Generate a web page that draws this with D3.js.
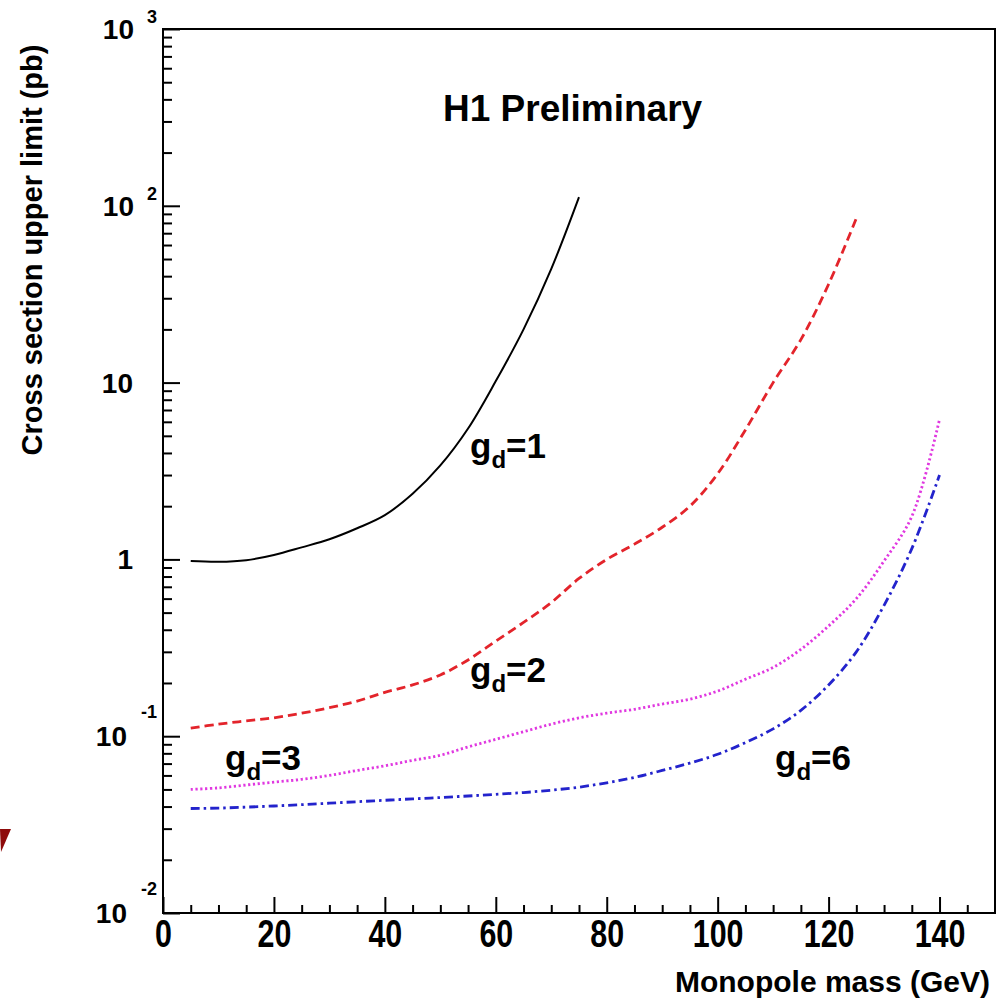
<!DOCTYPE html>
<html>
<head>
<meta charset="utf-8">
<script src="https://cdn.jsdelivr.net/npm/d3@7"></script>
<style>
  body { margin: 0; background: #fff; }
  svg { display: block; font-family: "Liberation Sans", Arial, sans-serif; font-weight: bold; }
</style>
</head>
<body>
<svg id="chart"></svg>
<script>
// monopole mass points (GeV)
const masses = [5, 10, 15, 20, 25, 30, 35, 40, 45, 50, 55, 60, 65, 70, 75,
  80, 85, 90, 95, 100, 105, 110, 115, 120, 125, 130, 135, 140];

// cross section upper limits (pb)
const limitG1 = [0.98, 0.97, 0.99, 1.06, 1.17, 1.30, 1.50, 1.78, 2.35, 3.4, 5.5, 10.2, 20, 44, 112];
const limitG2 = [0.111, 0.117, 0.122, 0.127, 0.135, 0.145, 0.158, 0.177, 0.195, 0.222, 0.27, 0.345,
  0.44, 0.57, 0.78, 1.0, 1.22, 1.52, 2.0, 3.05, 5.4, 10, 17.5, 36, 85];
const limitG3 = [0.050, 0.051, 0.053, 0.055, 0.057, 0.060, 0.064, 0.068, 0.073, 0.078, 0.087, 0.096,
  0.106, 0.117, 0.127, 0.135, 0.142, 0.152, 0.162, 0.180, 0.21, 0.245, 0.31, 0.42, 0.60, 0.98, 1.75, 6.2];
const limitG6 = [0.0390, 0.0392, 0.0397, 0.0403, 0.0410, 0.0418, 0.0426, 0.0434, 0.0442, 0.0450, 0.0459, 0.0469,
  0.0480, 0.0495, 0.0515, 0.0545, 0.0585, 0.064, 0.0705, 0.079, 0.092, 0.110, 0.140, 0.195, 0.30, 0.55, 1.15, 3.0];

const xMajorTicks = [0, 20, 40, 60, 80, 100, 120, 140];
const yDecades = [0.01, 0.1, 1, 10, 100, 1000];
const yTickBase = ["10", "10", "1", "10", "10", "10"];
const yTickExp = ["-2", "-1", "", "", "2", "3"];

const seriesNames = ["1", "2", "3", "6"];

const drawChart = () => {
  const svg = d3.select("#chart").attr("width", 998).attr("height", 1002);

  const margin = { top: 29, right: 3, bottom: 89, left: 163 };
  const width = 998 - margin.left - margin.right;
  const height = 1002 - margin.top - margin.bottom;

  const xScale = d3.scaleLinear().domain([0, 150]).range([0, width]);
  const yScale = d3.scaleLog().domain([0.01, 1000]).range([height, 0]);

  const g = svg.append("g").attr("transform", `translate(${margin.left}, ${margin.top})`);

  // minor ticks (2..9 in each decade, every 5 GeV)
  const yMinor = [];
  yDecades.slice(0, -1).forEach((d) => {
    for (let k = 2; k <= 9; k++) yMinor.push(d * k);
  });
  const xMinor = d3.range(5, 150, 5).filter((v) => v % 20 !== 0);

  g.append("g")
    .attr("class", "axis")
    .call(d3.axisLeft(yScale).tickValues(yMinor).tickSize(-9).tickFormat(""));
  g.append("g")
    .attr("class", "axis")
    .call(d3.axisLeft(yScale).tickValues(yDecades).tickSize(-17).tickFormat(""));

  g.append("g")
    .attr("class", "axis")
    .attr("transform", `translate(0, ${height})`)
    .call(d3.axisBottom(xScale).tickValues(xMinor).tickSize(-8).tickFormat(""));
  const xAxis = g.append("g")
    .attr("class", "axis")
    .attr("transform", `translate(0, ${height})`)
    .call(d3.axisBottom(xScale).tickValues(xMajorTicks).tickSize(-16));

  g.selectAll(".axis .domain").remove();
  g.selectAll(".axis line").attr("stroke", "#000").attr("stroke-width", 2);

  // narrow, tall digits like the original
  xAxis.selectAll("text")
    .attr("y", 34)
    .attr("dy", null)
    .attr("fill", "#000")
    .attr("transform", "scale(0.8, 1)")
    .style("font-family", "'Liberation Sans', Arial, sans-serif")
    .style("font-weight", "bold")
    .style("font-size", "38px");

  // y labels: 10 with exponent
  yDecades.forEach((v, i) => {
    const t = g.append("text")
      .attr("x", -6)
      .attr("y", yScale(v) + 10)
      .attr("text-anchor", "end")
      .style("font-size", "28px");
    if (yTickExp[i] === "") {
      t.attr("x", -30).text(yTickBase[i]);
    } else {
      t.append("tspan").text(yTickBase[i]);
      t.append("tspan")
        .attr("dx", yTickExp[i].startsWith("-") ? 14 : 13)
        .attr("dy", yTickExp[i].startsWith("-") ? -28 : -16)
        .style("font-size", "18px")
        .text(yTickExp[i]);
    }
  });

  // frame
  g.append("rect")
    .attr("width", width)
    .attr("height", height)
    .attr("fill", "none")
    .attr("stroke", "#000")
    .attr("stroke-width", 2);

  // curves
  const line = d3.line()
    .x((d) => xScale(d[0]))
    .y((d) => yScale(d[1]))
    .curve(d3.curveCatmullRom.alpha(0.5));

  const curves = [
    { vals: limitG1, color: "#000", width: 2, dash: null },
    { vals: limitG2, color: "#e3242b", width: 2.8, dash: "9,5" },
    { vals: limitG3, color: "#e038e0", width: 2.8, dash: "2.2,2.6" },
    { vals: limitG6, color: "#2323cc", width: 2.8, dash: "9,4,2.5,4" },
  ];

  curves.forEach((c) => {
    g.append("path")
      .datum(c.vals.map((v, i) => [masses[i], v]))
      .attr("fill", "none")
      .attr("stroke", c.color)
      .attr("stroke-width", c.width)
      .attr("stroke-dasharray", c.dash)
      .attr("d", line);
  });

  // curve labels g_d=N
  const labelPos = [[470, 458], [470, 682], [225, 770], [775, 770]];
  seriesNames.forEach((n, i) => {
    const t = svg.append("text")
      .attr("x", labelPos[i][0])
      .attr("y", labelPos[i][1])
      .style("font-size", "35px");
    t.append("tspan").text("g");
    t.append("tspan").attr("dy", 10).style("font-size", "24px").text("d");
    t.append("tspan").attr("dy", -10).text("=" + n);
  });

  // title
  svg.append("text")
    .attr("x", 443)
    .attr("y", 121)
    .style("font-size", "37px")
    .text("H1 Preliminary");

  // axis titles
  svg.append("text")
    .attr("x", 990)
    .attr("y", 992)
    .attr("text-anchor", "end")
    .style("font-size", "30px")
    .text("Monopole mass (GeV)");

  svg.append("text")
    .attr("transform", "translate(42, 250) rotate(-90)")
    .attr("text-anchor", "middle")
    .style("font-size", "29px")
    .text("Cross section upper limit (pb)");

  // small dark red marker at left edge
  svg.append("path")
    .attr("d", "M0,829 L11,829 L1,852 Z")
    .attr("fill", "#8e0b0b");
};

drawChart();
</script>
</body>
</html>
